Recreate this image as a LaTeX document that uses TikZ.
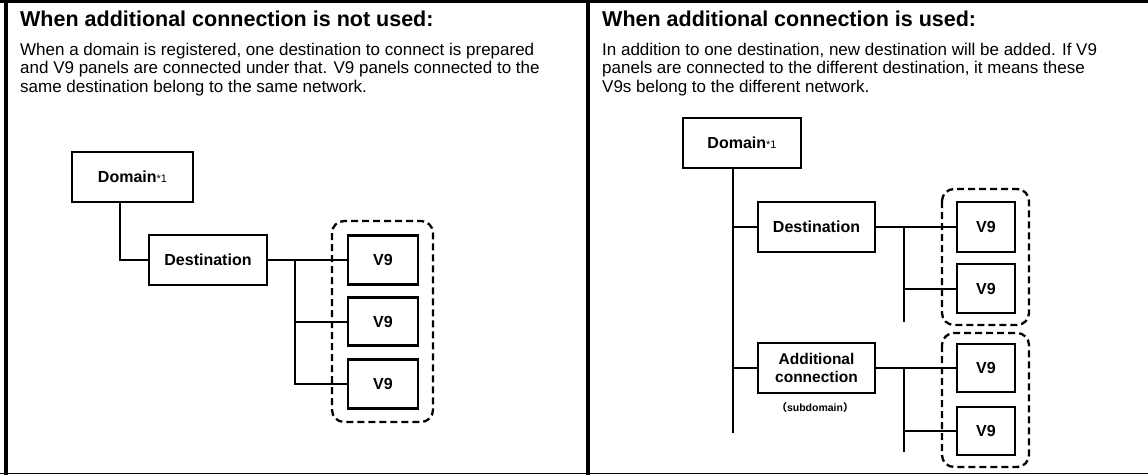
\documentclass[tikz,border=0pt]{standalone}
\usepackage{fontspec}
\setmainfont{Liberation Sans}
\newfontfamily\cjk{Noto Sans CJK JP}
\begin{document}
\begin{tikzpicture}[x=1pt,y=-1pt,
  box/.style={draw,line width=2.8pt,inner sep=0pt,align=center,font=\bfseries\fontsize{16}{17.5}\selectfont},
  conn/.style={line width=2pt},
  group/.style={draw,line width=2.3pt,dash pattern=on 7pt off 4pt,rounded corners=12pt},
  frame/.style={line width=3.6pt},
  title/.style={anchor=base west,inner sep=0pt,font=\bfseries\fontsize{21.5}{24}\selectfont},
  body/.style={anchor=north west,inner sep=0pt,align=left,font=\fontsize{17}{18.5}\selectfont}]
\useasboundingbox (0,0) rectangle (1148,475);
% frame
\draw[frame] (6,0) -- (6,475);
\draw[frame] (0,1.5) -- (1148,1.5);
\draw[frame,line width=4pt] (588,0) -- (588,475);
\draw[line width=1.6pt] (0,473.5) -- (1148,473.5);
% texts
\node[title] (t1) at (20,26) {When additional connection is not used:};
\node[body] (b1) at (20,42.5) {When a domain is registered, one destination to connect is prepared\\and V9 panels are connected under that. V9 panels connected to the\\same destination belong to the same network.};
\node[title] (t2) at (602,26) {When additional connection is used:};
\node[body] (b2) at (602,42.5) {In addition to one destination, new destination will be added. If V9\\panels are connected to the different destination, it means these\\V9s belong to the different network.};
% left diagram
\node[box,minimum width=121pt,minimum height=50pt] (dom1) at (132.5,177) {Domain{\mdseries\fontsize{11}{12}\selectfont*1}};
\node[box,minimum width=118pt,minimum height=50pt] (dest1) at (208,260) {Destination};
\node[box,minimum width=70pt,minimum height=49pt] (v1a) at (383,260) {V9};
\node[box,minimum width=70pt,minimum height=48pt] (v1b) at (383,321.5) {V9};
\node[box,minimum width=70pt,minimum height=49pt] (v1c) at (383,384) {V9};
\coordinate (g1a) at (332,221);
\coordinate (g1b) at (433,422);
\draw[group] (g1a) rectangle (g1b);
\coordinate (tr1) at (120,0);
\coordinate (j1) at (295,0);
\draw[conn] (tr1 |- dom1.south) |- (dest1.west);
\draw[conn] (dest1.east) -- (v1a.west);
\draw[conn] (j1 |- dest1.east) |- (v1c.west);
\draw[conn] (j1 |- v1b.west) -- (v1b.west);
% right diagram
\node[box,minimum width=118pt,minimum height=50pt] (dom2) at (742,143) {Domain{\mdseries\fontsize{11}{12}\selectfont*1}};
\node[box,minimum width=117pt,minimum height=50pt] (dest2) at (816.5,227) {Destination};
\node[box,minimum width=117pt,minimum height=50pt,font=\bfseries\fontsize{15.5}{17.5}\selectfont] (add2) at (816.5,368) {Additional\\connection};
\node[inner sep=0pt,font=\bfseries\fontsize{10.5}{12}\selectfont] (sub2) at (815,407) {{\cjk （}subdomain{\cjk ）}};
\node[box,minimum width=58pt,minimum height=50pt] (v2a) at (986,227) {V9};
\node[box,minimum width=58pt,minimum height=49pt] (v2b) at (986,288.5) {V9};
\node[box,minimum width=58pt,minimum height=48pt] (v2c) at (986,368) {V9};
\node[box,minimum width=58pt,minimum height=48pt] (v2d) at (986,431) {V9};
\coordinate (g2a) at (942,189);
\coordinate (g2b) at (1029,325);
\coordinate (g3a) at (942,333);
\coordinate (g3b) at (1029,467);
\draw[group] (g2a) rectangle (g2b);
\draw[group] (g3a) rectangle (g3b);
\coordinate (tr2end) at (733,433);
\coordinate (j2end) at (904,322);
\coordinate (j3end) at (904,452);
\draw[conn] (tr2end |- dom2.south) -- (tr2end);
\draw[conn] (tr2end |- dest2.west) -- (dest2.west);
\draw[conn] (tr2end |- add2.west) -- (add2.west);
\draw[conn] (dest2.east) -- (v2a.west);
\draw[conn] (j2end |- dest2.east) -- (j2end);
\draw[conn] (j2end |- v2b.west) -- (v2b.west);
\draw[conn] (add2.east) -- (v2c.west);
\draw[conn] (j3end |- add2.east) -- (j3end);
\draw[conn] (j3end |- v2d.west) -- (v2d.west);
\end{tikzpicture}
\end{document}
